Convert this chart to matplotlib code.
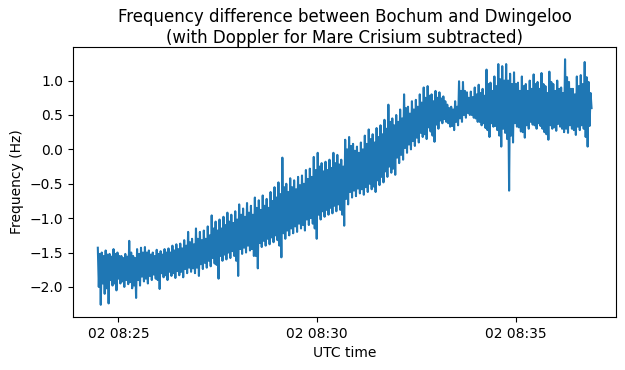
import numpy as np
import pandas as pd
import matplotlib
matplotlib.use("Agg")
import matplotlib.pyplot as plt
import matplotlib.dates as mdates

# Readings from the picture, left to right, in Hz, one column every ~4 px.
# hi / lo: extreme excursions (spikes) in each column
hi = [-1.43, -1.50, -1.47, -1.52, -1.45, -1.50, -1.55, -1.52, -1.33, -1.55,
      -1.45, -1.43, -1.42, -1.47, -1.50, -1.46, -1.48, -1.45, -1.44, -1.40,
      -1.38, -1.37, -1.32, -1.20, -1.30, -1.15, -1.20, -1.18, -1.12, -0.96,
      -1.05, -1.02, -0.98, -0.92, -0.95, -0.90, -0.80, -0.86, -0.78, -0.82,
      -0.70, -0.74, -0.67, -0.72, -0.62, -0.55, -0.48, -0.12, -0.50, -0.42,
      -0.45, -0.40, -0.38, -0.30, -0.28, -0.11, -0.05, -0.20, -0.18, -0.15,
      -0.05, -0.08, -0.15, 0.14, 0.18, 0.08, 0.04, 0.10, 0.20, 0.29,
      0.22, 0.31, 0.35, 0.43, 0.65, 0.45, 0.50, 0.58, 0.80, 0.62,
      0.70, 0.72, 0.80, 0.90, 0.92, 0.80, 0.85, 0.83, 0.77, 0.65,
      0.62, 0.70, 0.99, 0.98, 0.83, 0.84, 0.90, 0.94, 0.88, 1.16,
      0.97, 1.06, 1.24, 1.21, 1.24, 1.10, 1.12, 0.97, 1.06, 0.95,
      1.00, 1.09, 0.98, 1.11, 0.92, 1.13, 0.95, 1.00, 0.90, 1.31,
      0.98, 0.88, 1.06, 1.08, 1.27, 0.98]
lo = [-2.26, -2.10, -2.24, -1.98, -2.05, -1.95, -2.00, -1.96, -2.02, -2.16,
      -1.98, -1.92, -1.95, -1.90, -1.88, -2.03, -1.86, -1.90, -1.84, -1.87,
      -1.83, -1.86, -1.80, -1.78, -1.80, -1.84, -1.74, -1.72, -1.70, -1.66,
      -1.88, -1.62, -1.60, -1.58, -1.55, -1.84, -1.52, -1.50, -1.47, -1.55,
      -1.73, -1.42, -1.40, -1.38, -1.35, -1.32, -1.57, -1.30, -1.25, -1.22,
      -1.20, -1.15, -1.18, -1.10, -1.08, -1.30, -1.02, -0.98, -0.95, -0.93,
      -0.90, -0.88, -1.11, -0.80, -0.70, -0.68, -0.64, -0.66, -0.62, -0.58,
      -0.62, -0.52, -0.48, -0.40, -0.34, -0.37, -0.20, -0.15, -0.05, 0.00,
      0.05, 0.10, 0.18, 0.15, 0.26, 0.11, 0.30, 0.38, 0.40, 0.33,
      0.28, 0.35, 0.40, 0.46, 0.50, 0.46, 0.40, 0.35, 0.31, 0.18,
      0.33, 0.28, 0.04, 0.24, -0.60, 0.10, 0.33, 0.26, 0.17, 0.30,
      0.36, 0.30, 0.34, 0.25, 0.14, 0.30, 0.27, 0.33, 0.25, 0.24,
      0.30, 0.21, 0.28, 0.30, 0.04, 0.60]
# hi2 / lo2: the bulk edges of the band in the same columns
hi2 = [-1.52, -1.55, -1.53, -1.56, -1.52, -1.55, -1.58, -1.56, -1.50, -1.58,
       -1.52, -1.50, -1.50, -1.53, -1.55, -1.52, -1.53, -1.50, -1.50, -1.47,
       -1.45, -1.44, -1.40, -1.35, -1.38, -1.30, -1.32, -1.30, -1.25, -1.15,
       -1.18, -1.15, -1.10, -1.05, -1.07, -1.02, -0.95, -0.98, -0.92, -0.95,
       -0.85, -0.88, -0.82, -0.85, -0.75, -0.70, -0.65, -0.55, -0.62, -0.55,
       -0.58, -0.52, -0.50, -0.43, -0.40, -0.30, -0.25, -0.32, -0.30, -0.27,
       -0.20, -0.22, -0.25, 0.00, 0.05, -0.02, -0.05, 0.00, 0.08, 0.15,
       0.10, 0.18, 0.22, 0.30, 0.40, 0.35, 0.40, 0.45, 0.60, 0.52,
       0.58, 0.62, 0.68, 0.75, 0.78, 0.70, 0.75, 0.74, 0.70, 0.60,
       0.58, 0.62, 0.85, 0.85, 0.75, 0.76, 0.80, 0.82, 0.78, 0.95,
       0.85, 0.92, 1.02, 1.00, 1.00, 0.95, 0.95, 0.85, 0.92, 0.85,
       0.88, 0.95, 0.88, 0.95, 0.82, 0.98, 0.85, 0.88, 0.82, 1.05,
       0.88, 0.80, 0.92, 0.95, 1.05, 0.82]
lo2 = [-2.00, -1.95, -2.02, -1.90, -1.95, -1.88, -1.92, -1.90, -1.93, -1.98,
       -1.90, -1.85, -1.88, -1.84, -1.82, -1.90, -1.80, -1.83, -1.78, -1.80,
       -1.77, -1.78, -1.74, -1.72, -1.73, -1.72, -1.67, -1.65, -1.62, -1.58,
       -1.68, -1.55, -1.53, -1.50, -1.48, -1.62, -1.45, -1.43, -1.40, -1.45,
       -1.55, -1.36, -1.33, -1.30, -1.28, -1.25, -1.40, -1.22, -1.18, -1.15,
       -1.12, -1.08, -1.10, -1.02, -1.00, -1.15, -0.95, -0.90, -0.88, -0.85,
       -0.82, -0.80, -0.95, -0.72, -0.62, -0.60, -0.57, -0.58, -0.55, -0.50,
       -0.54, -0.45, -0.40, -0.32, -0.25, -0.28, -0.12, -0.08, 0.02, 0.07,
       0.12, 0.17, 0.24, 0.22, 0.32, 0.20, 0.36, 0.42, 0.44, 0.38,
       0.34, 0.40, 0.45, 0.50, 0.53, 0.50, 0.45, 0.40, 0.38, 0.28,
       0.38, 0.34, 0.20, 0.30, 0.15, 0.20, 0.38, 0.32, 0.25, 0.35,
       0.40, 0.35, 0.38, 0.30, 0.22, 0.35, 0.32, 0.37, 0.30, 0.30,
       0.35, 0.28, 0.33, 0.35, 0.18, 0.34]

start_time = "2023-01-02 08:24:29"
end_time = "2023-01-02 08:36:54"

values = []
for a, b, c, d in zip(hi, lo2, hi2, lo):
    values.extend([a, b, c, d])
times = pd.date_range(start_time, end_time, periods=len(values))

fig = plt.figure(figsize=(6.25, 3.7), dpi=100)
ax = fig.add_axes([0.117, 0.143, 0.869, 0.730])
ax.plot(times, values, color="#1f77b4", linewidth=1.5)
ax.xaxis.set_major_locator(mdates.MinuteLocator(byminute=[25, 30, 35]))
ax.xaxis.set_major_formatter(mdates.DateFormatter("%d %H:%M"))
ax.set_xlabel("UTC time")
ax.set_ylabel("Frequency (Hz)")
ax.set_title("Frequency difference between Bochum and Dwingeloo\n(with Doppler for Mare Crisium subtracted)", pad=3)
fig.savefig("out.png", dpi=100)
